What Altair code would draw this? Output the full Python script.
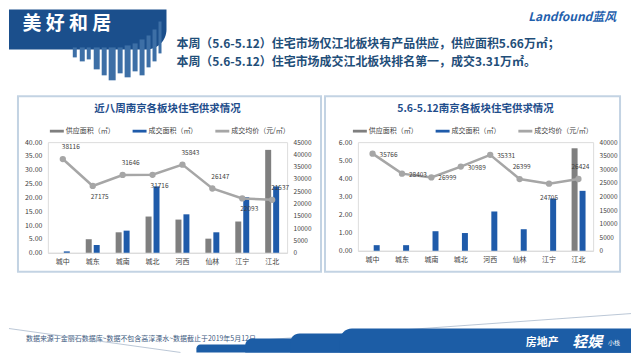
import altair as alt
import pandas as pd

FONT = "Noto Sans CJK SC"

districts = ["城中", "城东", "城南", "城北", "河西", "仙林", "江宁", "江北"]
series_names = ["供应面积（㎡）", "成交面积（㎡）", "成交均价（元/㎡）"]
series_colors = ["#7F7F7F", "#1F5BAA", "#A6A6A6"]

# 近八周
eight_title = "近八周南京各板块住宅供求情况"
eight_supply = [0.0, 4.9, 7.4, 13.1, 12.0, 5.1, 11.3, 37.2]
eight_deal = [0.5, 2.8, 8.0, 24.0, 13.9, 7.4, 20.1, 24.0]
eight_price = [38116, 27175, 31646, 31716, 35843, 26147, 22093, 21537]
eight_label_side = ["above", "below", "above", "below", "above", "above", "below", "above"]

# 5.6-5.12
week_title = "5.6-5.12南京各板块住宅供求情况"
week_supply = [0, 0, 0, 0, 0, 0, 0, 5.66]
week_deal = [0.31, 0.31, 1.08, 0.98, 2.17, 1.19, 2.89, 3.31]
week_price = [35766, 28403, 26999, 30989, 35331, 26399, 24705, 26424]
week_label_side = ["right", "right", "right", "right", "right", "above", "below", "above"]

headline = [
    "本周（5.6-5.12）住宅市场仅江北板块有产品供应，供应面积5.66万㎡；",
    "本周（5.6-5.12）住宅市场成交江北板块排名第一，成交3.31万㎡。",
]
brand = "美  好  和  居"
logo = "Landfound蓝风"
footnote = "数据来源于金丽石数据库~数据不包含高淳溧水~数据截止于2019年5月12日"
footer_logo = ["房地产", "轻娱", "小栈"]

one = pd.DataFrame({"k": [0]})
LABEL_COLOR = "#404040"


def txt(x, y, text, **kw):
    return alt.Chart(one).mark_text(font=FONT, baseline="middle", **kw).encode(
        x=alt.value(x), y=alt.value(y), text=alt.value(text))


def box(x1, x2, y1, y2, **kw):
    return alt.Chart(one).mark_rect(**kw).encode(
        x=alt.value(x1), x2=alt.value(x2), y=alt.value(y1), y2=alt.value(y2))


def seg(x1, y1, x2, y2, **kw):
    return alt.Chart(one).mark_rule(**kw).encode(
        x=alt.value(x1), y=alt.value(y1), x2=alt.value(x2), y2=alt.value(y2))


def panel(title, supply, deal, price, sides, area_max, area_step, price_max,
          width, height, frame, legend_xy, side_style, title_xy, extra=()):
    bars_df = pd.DataFrame({
        "district": districts * 2,
        "series": [series_names[0]] * len(districts) + [series_names[1]] * len(districts),
        "value": list(supply) + list(deal),
    })
    line_df = pd.DataFrame({"district": districts, "price": price, "side": sides})
    color_scale = alt.Scale(domain=series_names, range=series_colors)

    x = alt.X("district:N", sort=districts, title=None,
              scale=alt.Scale(domain=districts, paddingInner=0.467, paddingOuter=0.233),
              axis=alt.Axis(labelAngle=0, ticks=False, tickSize=0, domainColor="#D9D9D9",
                            labelFontSize=7, labelColor=LABEL_COLOR, labelFont=FONT,
                            labelPadding=5, grid=False))
    legend = alt.Legend(title=None, orient="none", legendX=legend_xy[0], legendY=legend_xy[1],
                        direction="horizontal", symbolType="M-1,-0.2H1V0.2H-1Z",
                        symbolSize=196, symbolStrokeWidth=0, labelFontSize=7, labelFont=FONT,
                        labelColor=LABEL_COLOR, labelOffset=2, columnPadding=18)

    n_steps = int(round(area_max / area_step))
    bars = alt.Chart(bars_df).mark_bar(size=6).encode(
        x=x,
        xOffset=alt.XOffset("series:N", sort=series_names[:2],
                            scale=alt.Scale(domain=series_names[:2], paddingInner=0, paddingOuter=0)),
        y=alt.Y("value:Q", title=None, scale=alt.Scale(domain=[0, area_max], nice=False),
                axis=alt.Axis(values=[i * area_step for i in range(n_steps + 1)], format=".2f",
                              ticks=False, tickSize=0, domain=False, grid=False,
                              labelFontSize=7, labelColor=LABEL_COLOR, labelFont=FONT,
                              labelPadding=6)),
        color=alt.Color("series:N", scale=color_scale, legend=legend),
    )

    base = alt.Chart(line_df).encode(
        x=x,
        y=alt.Y("price:Q", title=None, scale=alt.Scale(domain=[0, price_max], nice=False),
                axis=alt.Axis(orient="right", values=list(range(0, price_max + 1, 5000)), format="d",
                              ticks=False, tickSize=0, domain=False, grid=False,
                              labelFontSize=6.5, labelColor=LABEL_COLOR, labelFont=FONT,
                              labelPadding=6)),
    )
    line = base.mark_line(strokeWidth=2.5).encode(color=alt.datum(series_names[2]))
    pts = base.mark_circle(size=40, opacity=1).encode(color=alt.datum(series_names[2]))
    price_layers = [line, pts]
    for side, st in side_style.items():
        if side in sides:
            price_layers.append(
                base.transform_filter(alt.datum.side == side).mark_text(
                    fontSize=6.5, font=FONT, color=LABEL_COLOR, baseline="middle", **st
                ).encode(text=alt.Text("price:Q", format="d"))
            )

    inner = alt.layer(bars, alt.layer(*price_layers)).resolve_scale(y="independent")
    frame_rect = box(*frame, fillOpacity=0, stroke="#C3D3E3", strokeWidth=2)
    title_mark = txt(title_xy[0], title_xy[1], title, fontSize=10.5, fontWeight="bold",
                     color="#1F4E8C", align="center")
    layers = [frame_rect, title_mark, inner] + list(extra)
    return alt.layer(*layers).resolve_scale(x="independent", y="independent").properties(
        width=width, height=height)


# Page decoration.  Left-panel pieces are relative to the left plot origin (page 47, 141),
# right-panel pieces relative to the right plot origin (page 358, 141).
LX, RX, OY = 47, 358, 141

# skyline below the brand banner: (left, right, top, bottom) in page pixels
skyline = [
    (72, 76, 46, 56), (79, 84, 46, 60), (86, 90, 46, 58), (93, 99, 46, 68), (101, 106, 46, 74),
    (108, 115, 46, 79), (117, 122, 46, 72), (124, 130, 44, 76), (132, 137, 42, 70),
    (139, 144, 38, 74), (146, 150, 34, 66), (152, 156, 28, 60), (158, 161, 20, 52),
]
# footer band pieces: (left, top, corner radius) in page pixels; right edge 632, bottom 352
band = [(196, 344, 8), (245, 338, 12), (290, 333, 14), (340, 328, 14)]

left_decor = [
    box(8 - LX, 166 - LX, 8 - OY, 48 - OY, color="#1B4F8C", cornerRadiusBottomRight=22),
    txt(66 - LX, 23 - OY, brand, fontSize=19, fontWeight="bold", color="white", align="center"),
    txt(176 - LX, 43 - OY, headline, fontSize=12, fontWeight="bold", color="#1F4E79",
        align="left", lineHeight=18),
    txt(573 - LX, 15 - OY, logo, fontSize=12, fontWeight="bold", fontStyle="italic",
        color="#1F5FAD", align="center"),
    txt(25 - LX, 339 - OY, footnote, fontSize=7, color="#3D5A80", align="left"),
]
right_decor = (
    [box(l - RX, r - RX, t - OY, b - OY, color="#3D6FA6") for l, r, t, b in skyline]
    + [seg(8 - RX, 328 - OY, 180 - RX, 352 - OY, color="#A9B9CC", strokeWidth=0.8),
       seg(255 - RX, 340 - OY, 632 - RX, 313 - OY, color="#A9B9CC", strokeWidth=0.8)]
    + [box(l - RX, 632 - RX, t - OY, 352 - OY, color="#1C5DA6", cornerRadiusTopLeft=rad)
       for l, t, rad in band]
    + [txt(543 - RX, 343 - OY, footer_logo[0], fontSize=11, fontWeight="bold", color="white",
           align="center"),
       txt(588 - RX, 342 - OY, footer_logo[1], fontSize=15, fontWeight="bold",
           fontStyle="italic", color="white", align="center"),
       txt(615 - RX, 343 - OY, footer_logo[2], fontSize=6, color="white", align="center")]
)

left = panel(eight_title, eight_supply, eight_deal, eight_price, eight_label_side,
             40, 5, 45000, 240, 111, (-30, 274, -46, 130), (2, -18),
             {"above": dict(dx=8, dy=-12, align="center"),
              "below": dict(dx=7, dy=11, align="center")},
             (120, -33), extra=left_decor)
right = panel(week_title, week_supply, week_deal, week_price, week_label_side,
              6, 1, 40000, 236, 109, (-33, 263, -46, 130), (-5, -18),
              {"right": dict(dx=7, dy=1, align="left"),
               "above": dict(dx=2, dy=-12, align="center"),
               "below": dict(dx=0, dy=14, align="center")},
              (118, -33), extra=right_decor)

chart = alt.hconcat(left, right, spacing=71, bounds="flush").resolve_scale(
    color="independent"
).properties(padding=0).configure_view(strokeWidth=0).configure(font=FONT)

chart.save("out.html", embed_options={"renderer": "svg", "actions": False})
